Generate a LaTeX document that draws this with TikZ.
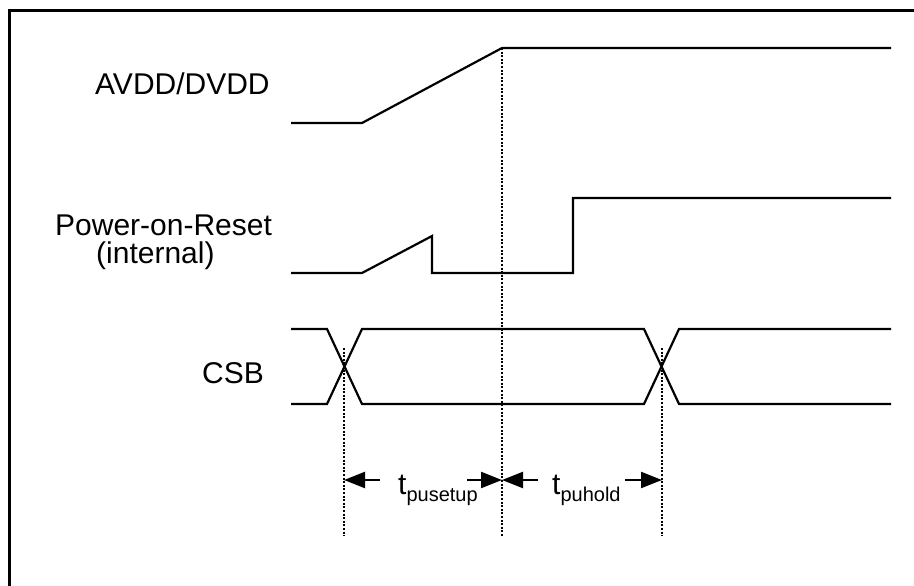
\documentclass[tikz,border=0pt]{standalone}
\usepackage{fontspec}
\setmainfont{Liberation Sans}
\usetikzlibrary{arrows.meta}
\begin{document}
\begin{tikzpicture}[x=1pt,y=-1pt,
  sig/.style={line width=2.2pt,line join=miter},
  guide/.style={line width=1.3pt,dash pattern=on 2pt off 1.6pt},
  lbl/.style={anchor=base west,inner sep=0pt,font=\fontsize{30}{34}\selectfont},
  dim/.style={line width=2.2pt,-{Triangle[length=21pt,width=16pt]}},
  frame/.style={line width=2.4pt}]
\useasboundingbox (0,0) rectangle (914,586);
\fill[white] (0,0) rectangle (914,586);
% frame (left and top edges)
\draw[frame] (9.5,586) -- (9.5,10.5) -- (914,10.5);
% labels
\node[lbl] (avdd) at (95,95) {AVDD/DVDD};
\node[lbl] (por) at (55,235) {Power-on-Reset};
\node[lbl] (porint) at (96,263) {(internal)};
\node[lbl] (csb) at (202,383) {CSB};
% AVDD/DVDD
\draw[sig] (291,123) -- (362,123) -- (502,48) -- (891,48);
% POR
\draw[sig] (291,273) -- (362,273) -- (432,236) -- (432,273) -- (573,273) -- (573,198) -- (891,198);
% CSB
\draw[sig] (291,329) -- (327,329) -- (362,404) -- (644,404) -- (679,329) -- (891,329);
\draw[sig] (291,404) -- (327,404) -- (362,329) -- (644,329) -- (679,404) -- (891,404);
% guide lines
\coordinate (g1t) at (344,348); \coordinate (g1b) at (344,536);
\coordinate (g2t) at (502,48);  \coordinate (g2b) at (502,536);
\coordinate (g3t) at (662,348); \coordinate (g3b) at (662,536);
\draw[guide] (g1t) -- (g1b);
\draw[guide] (g2t) -- (g2b);
\draw[guide] (g3t) -- (g3b);
% dimension arrows
\coordinate (a1) at (380,480); \coordinate (a1t) at (344,480);
\coordinate (a2) at (467,480); \coordinate (a2t) at (502,480);
\coordinate (a3) at (538,480); \coordinate (a3t) at (502,480);
\coordinate (a4) at (625,480); \coordinate (a4t) at (662,480);
\draw[dim] (a1) -- (a1t);
\draw[dim] (a2) -- (a2t);
\draw[dim] (a3) -- (a3t);
\draw[dim] (a4) -- (a4t);
\node[lbl] (tsetup) at (398,494) {t\raisebox{-7pt}{\fontsize{20}{22}\selectfont pusetup}};
\node[lbl] (thold) at (552,494) {t\raisebox{-7pt}{\fontsize{20}{22}\selectfont puhold}};
\end{tikzpicture}
\end{document}
